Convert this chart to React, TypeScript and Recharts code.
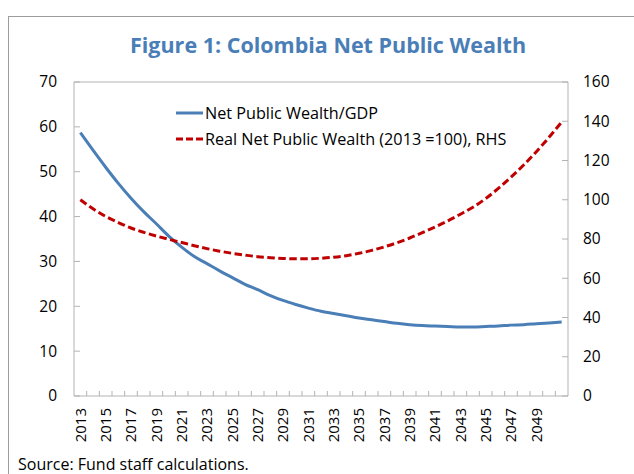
// Figure 1: Colombia Net Public Wealth — two-axis line chart (Recharts).
import { Legend, Line, LineChart, ReferenceLine, XAxis, YAxis } from 'recharts';

const years = [
  2013, 2014, 2015, 2016, 2017, 2018, 2019, 2020, 2021, 2022, 2023, 2024, 2025,
  2026, 2027, 2028, 2029, 2030, 2031, 2032, 2033, 2034, 2035, 2036, 2037, 2038,
  2039, 2040, 2041, 2042, 2043, 2044, 2045, 2046, 2047, 2048, 2049, 2050, 2051,
];

// Net public wealth, % of GDP (LHS)
const wealthGdp = [
  58.7, 54.8, 51.0, 47.4, 44.1, 41.1, 38.4, 35.6, 33.2, 31.1, 29.5, 27.9, 26.4,
  24.9, 23.7, 22.4, 21.3, 20.4, 19.6, 18.9, 18.4, 17.9, 17.4, 17.0, 16.6, 16.2,
  15.9, 15.7, 15.6, 15.5, 15.4, 15.4, 15.5, 15.6, 15.8, 15.9, 16.1, 16.3, 16.5,
];

// Real net public wealth, 2013 = 100 (RHS)
const realWealth = [
  100, 95.4, 91.5, 88.4, 85.6, 83.4, 81.5, 79.8, 78.2, 76.6, 75.1, 73.8, 72.7,
  71.8, 71.0, 70.5, 70.1, 69.9, 69.9, 70.2, 70.7, 71.5, 72.7, 74.2, 76.0, 78.1,
  80.5, 83.2, 86.1, 89.2, 92.6, 96.2, 100.6, 105.8, 111.5, 117.7, 124.5, 131.8, 139.6,
];

const xLabels = [
  '2013', '2015', '2017', '2019', '2021', '2023', '2025', '2027', '2029', '2031',
  '2033', '2035', '2037', '2039', '2041', '2043', '2045', '2047', '2049',
];
const leftTicks = [0, 10, 20, 30, 40, 50, 60, 70];
const rightTicks = [0, 20, 40, 60, 80, 100, 120, 140, 160];

const data = years.map((y, i) => ({ year: String(y), gdp: wealthGdp[i], real: realWealth[i] }));

const FONT = '"Open Sans", "Noto Sans", sans-serif';
const AXIS = '#b3b3b3';
const BLUE = '#4a7eb7';
const RED = '#c00000';
const STEP = 494 / years.length;

function LeftTick({ x, y, payload }: any) {
  return (
    <g>
      <line x1={x} x2={x + 6} y1={y} y2={y} stroke={AXIS} />
      <text x={x - 17} y={y} dy="0.35em" textAnchor="end" fontSize={15.5} fill="#000" fontFamily={FONT}>
        {payload.value}
      </text>
    </g>
  );
}

function RightTick({ x, y, payload }: any) {
  return (
    <g>
      <line x1={x - 6} x2={x} y1={y} y2={y} stroke={AXIS} />
      <text x={x + 15} y={y} dy="0.35em" textAnchor="start" fontSize={15.5} fill="#000" fontFamily={FONT}>
        {payload.value}
      </text>
    </g>
  );
}

function YearTick({ x, y, payload }: any) {
  const show = xLabels.includes(payload.value);
  return (
    <g>
      {payload.value !== '2013' && (
        <line x1={x - STEP / 2} x2={x - STEP / 2} y1={y - 5} y2={y} stroke={AXIS} />
      )}
      {show && (
        <text
          transform={`translate(${x},${y + 12}) rotate(-90)`}
          dy="0.35em"
          textAnchor="end"
          fontSize={15}
          fill="#000"
          fontFamily={FONT}
        >
          {payload.value}
        </text>
      )}
    </g>
  );
}

function ChartLegend() {
  const rows = [
    { label: 'Net Public Wealth/GDP', color: BLUE, dash: undefined },
    { label: 'Real Net Public Wealth (2013 =100), RHS', color: RED, dash: '7 3' },
  ];
  return (
    <div style={{ fontFamily: FONT, fontSize: 16.2, color: '#000' }}>
      {rows.map((r) => (
        <div key={r.label} style={{ display: 'flex', alignItems: 'center', height: 26 }}>
          <svg width={28} height={10} style={{ marginRight: 1 }}>
            <line x1={0} x2={27} y1={5} y2={5} stroke={r.color} strokeWidth={3} strokeDasharray={r.dash} />
          </svg>
          <span style={{ whiteSpace: 'nowrap' }}>{r.label}</span>
        </div>
      ))}
    </div>
  );
}

export default function App() {
  return (
    <div style={{ position: 'absolute', left: 0, top: 0, width: 634, height: 474, overflow: 'hidden', background: '#fff' }}>
      <div
        style={{
          position: 'absolute',
          left: 8,
          top: 16,
          width: 700,
          height: 600,
          border: '1px solid #9c9c9c',
        }}
      />
      <div
        style={{
          position: 'absolute',
          left: 0,
          width: 656,
          top: 30,
          textAlign: 'center',
          fontFamily: FONT,
          fontWeight: 700,
          fontSize: 21.5,
          color: BLUE,
        }}
      >
        Figure 1: Colombia Net Public Wealth
      </div>
      <div style={{ position: 'absolute' }}>
        <LineChart width={634} height={474} data={data} margin={{ top: 82, right: 16, bottom: 28, left: 34 }}>
          <XAxis
            dataKey="year"
            type="category"
            interval={0}
            padding={{ left: STEP / 2, right: STEP / 2 }}
            height={50}
            axisLine={{ stroke: AXIS }}
            tickLine={false}
            tickSize={0}
            tickMargin={0}
            tick={<YearTick />}
          />
          <YAxis
            yAxisId="left"
            orientation="left"
            width={40}
            domain={[0, 70]}
            ticks={leftTicks}
            axisLine={{ stroke: AXIS }}
            tickLine={false}
            tickSize={0}
            tickMargin={0}
            tick={<LeftTick />}
          />
          <YAxis
            yAxisId="right"
            orientation="right"
            width={50}
            domain={[0, 160]}
            ticks={rightTicks}
            axisLine={{ stroke: AXIS }}
            tickLine={false}
            tickSize={0}
            tickMargin={0}
            tick={<RightTick />}
          />
          <ReferenceLine yAxisId="left" y={70} stroke={AXIS} />
          <Legend
            layout="horizontal"
            verticalAlign="middle"
            align="center"
            content={<ChartLegend />}
            wrapperStyle={{ position: 'absolute', left: 176, top: 100, width: 'auto' }}
          />
          <Line
            yAxisId="left"
            dataKey="gdp"
            name="Net Public Wealth/GDP"
            type="monotone"
            stroke={BLUE}
            strokeWidth={3}
            dot={false}
            isAnimationActive={false}
          />
          <Line
            yAxisId="right"
            dataKey="real"
            name="Real Net Public Wealth (2013 =100), RHS"
            type="monotone"
            stroke={RED}
            strokeWidth={3}
            strokeDasharray="7.5 3.5"
            dot={false}
            isAnimationActive={false}
          />
        </LineChart>
      </div>
      <div
        style={{
          position: 'absolute',
          left: 18,
          top: 453,
          fontFamily: FONT,
          fontSize: 16,
          color: '#000',
          whiteSpace: 'nowrap',
        }}
      >
        Source: Fund staff calculations.
      </div>
    </div>
  );
}
